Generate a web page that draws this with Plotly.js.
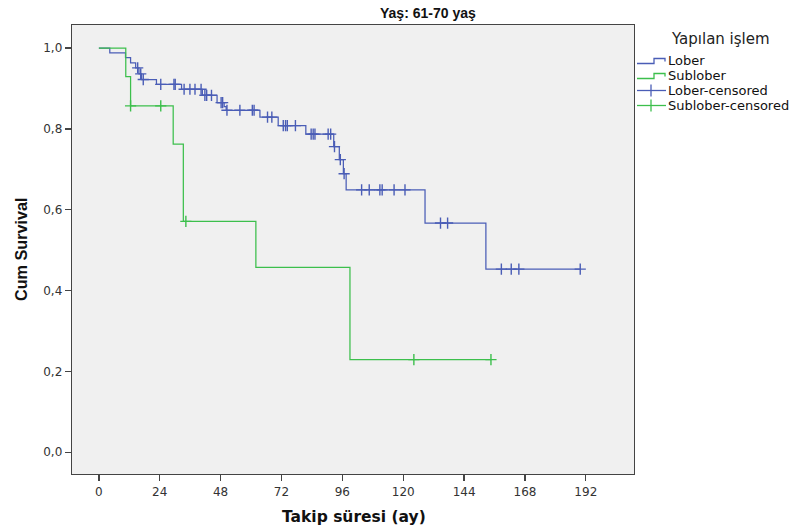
<!DOCTYPE html>
<html>
<head>
<meta charset="utf-8">
<script src="https://cdn.plot.ly/plotly-3.0.1.min.js"></script>
<style>html,body{margin:0;padding:0;background:#fff;}#chart{width:798px;height:532px;}</style>
</head>
<body>
<div id="chart"></div>
<script>
// ---- Data ----
const loberTime = [0, 4.3, 10.5, 12.5, 14.5, 15.8, 16.8, 22.7, 32.6, 40.8, 46.6, 49.4, 50.2, 63.5, 70.7, 81.6, 92.6, 94.8, 96.4, 97.5, 128.6, 152.6, 189.8];
const loberSurv = [1.0, 0.988, 0.976, 0.963, 0.951, 0.936, 0.922, 0.910, 0.898, 0.883, 0.865, 0.855, 0.846, 0.829, 0.808, 0.787, 0.756, 0.724, 0.689, 0.649, 0.567, 0.453, 0.453];
const loberCensTime = [15.3, 16.5, 17.5, 24.4, 29.6, 30.1, 33.6, 35.9, 37.9, 40.3, 41.8, 42.5, 44.4, 48.2, 48.8, 50.5, 55.6, 60.5, 61.2, 66.5, 68.2, 72.7, 73.6, 74.3, 77.5, 83.7, 84.5, 85.2, 90.4, 91.4, 92.9, 95.2, 96.7, 103.6, 106.6, 110.8, 111.7, 116.4, 120.7, 134.7, 137.5, 158.7, 162.6, 165.6, 189.8];

const subTime = [0, 10.6, 12.5, 29.3, 33.3, 61.9, 99.0, 154.6];
const subSurv = [1.0, 0.929, 0.857, 0.762, 0.571, 0.457, 0.229, 0.229];
const subCensTime = [12.5, 24.4, 34.3, 124.2, 154.6];

const xTicks = [0, 24, 48, 72, 96, 120, 144, 168, 192];
const yTicks = [0, 0.2, 0.4, 0.6, 0.8, 1.0];
const legendLabels = ["Lober", "Sublober", "Lober-censored", "Sublober-censored"];
const legendTitle = "Yapılan işlem";
const chartTitle = "Yaş: 61-70 yaş";
const xTitle = "Takip süresi (ay)";
const yTitle = "Cum Survival";

const BLUE = "#4a5db6";
const GREEN = "#3cbf4c";

function survAt(times, surv, t) {
  let s = surv[0];
  for (let i = 0; i < times.length; i++) { if (times[i] <= t) s = surv[i]; }
  return s;
}

const traces = [
  {x: loberTime, y: loberSurv, mode: "lines", line: {shape: "hv", color: BLUE, width: 1.25}, hoverinfo: "skip"},
  {x: subTime, y: subSurv, mode: "lines", line: {shape: "hv", color: GREEN, width: 1.25}, hoverinfo: "skip"},
  {x: loberCensTime, y: loberCensTime.map(t => survAt(loberTime, loberSurv, t)), mode: "markers",
   marker: {symbol: "cross-thin", size: 8, color: BLUE, line: {color: BLUE, width: 1.4}}, hoverinfo: "skip"},
  {x: subCensTime, y: subCensTime.map(t => survAt(subTime, subSurv, t)), mode: "markers",
   marker: {symbol: "cross-thin", size: 8, color: GREEN, line: {color: GREEN, width: 1.4}}, hoverinfo: "skip"}
];

// plot area in pixels
const L = 72, R = 634, T = 25, B = 474;
const px = x => (x - L) / (R - L);
const py = y => (B - y) / (B - T);

const shapes = [];
const annotations = [];
const sans = "Liberation Sans, Arial, sans-serif";
const wide = "DejaVu Sans, sans-serif";

annotations.push({text: "<b>" + chartTitle + "</b>", xref: "paper", yref: "paper", x: px(428), y: py(13), xanchor: "center", yanchor: "middle", showarrow: false, font: {family: sans, size: 14, color: "#111"}});
annotations.push({text: "<b>" + xTitle + "</b>", xref: "paper", yref: "paper", x: px(354), y: py(517), xanchor: "center", yanchor: "middle", showarrow: false, font: {family: wide, size: 15.5, color: "#111"}});
annotations.push({text: "<b>" + yTitle + "</b>", xref: "paper", yref: "paper", x: px(21), y: py(250), xanchor: "center", yanchor: "middle", textangle: -90, showarrow: false, font: {family: sans, size: 16.2, color: "#111"}});
annotations.push({text: legendTitle, xref: "paper", yref: "paper", x: px(721), y: py(39), xanchor: "center", yanchor: "middle", showarrow: false, font: {family: wide, size: 15, color: "#222"}});

const rowsY = [60.5, 75.5, 90.5, 105.5];
const colors = [BLUE, GREEN, BLUE, GREEN];
legendLabels.forEach((lab, i) => {
  const y = rowsY[i];
  annotations.push({text: lab, xref: "paper", yref: "paper", x: px(667), y: py(y), xanchor: "left", yanchor: "middle", showarrow: false, borderpad: 0, font: {family: wide, size: 13, color: "#111"}});
  if (i < 2) {
    const path = `M${px(637)},${py(y + 3)} L${px(654)},${py(y + 3)} L${px(654)},${py(y - 2)} L${px(665)},${py(y - 2)} L${px(665)},${py(y + 1)}`;
    shapes.push({type: "path", xref: "paper", yref: "paper", path: path, line: {color: colors[i], width: 1.3}});
  } else {
    shapes.push({type: "line", xref: "paper", yref: "paper", x0: px(637), x1: px(666), y0: py(y), y1: py(y), line: {color: colors[i], width: 1.3}});
    shapes.push({type: "line", xref: "paper", yref: "paper", x0: px(651), x1: px(651), y0: py(y - 6), y1: py(y + 6), line: {color: colors[i], width: 1.3}});
  }
});

const layout = {
  width: 798, height: 532,
  margin: {l: L, r: 798 - R, t: T, b: 532 - B, pad: 0},
  paper_bgcolor: "#ffffff",
  plot_bgcolor: "#f0f0f0",
  showlegend: false,
  separators: ",.",
  font: {family: wide, size: 12, color: "#333"},
  xaxis: {range: [-10.6, 211], tickvals: xTicks, ticktext: xTicks.map(String), ticks: "outside", ticklen: 6, tickwidth: 1.3, tickcolor: "#444",
          showgrid: false, zeroline: false, showline: true, mirror: true, linecolor: "#444", linewidth: 1.3,
          tickfont: {family: wide, size: 12, color: "#333"}},
  yaxis: {range: [-0.054, 1.057], tickvals: yTicks, tickformat: ".1f", ticks: "outside", ticklen: 6, tickwidth: 1.3, tickcolor: "#444",
          showgrid: false, zeroline: false, showline: true, mirror: true, linecolor: "#444", linewidth: 1.3,
          tickfont: {family: wide, size: 12, color: "#333"}},
  shapes: shapes,
  annotations: annotations
};

Plotly.newPlot("chart", traces, layout, {staticPlot: true, displayModeBar: false});
</script>
</body>
</html>
